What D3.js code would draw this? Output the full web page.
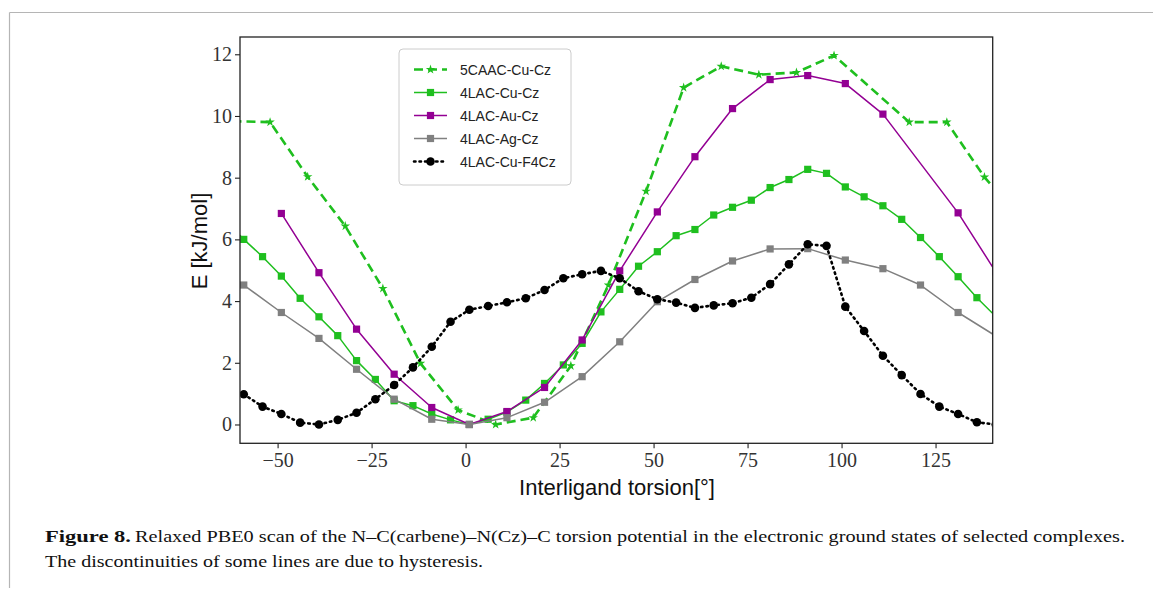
<!DOCTYPE html>
<html>
<head>
<meta charset="utf-8">
<script src="https://cdn.jsdelivr.net/npm/d3@7"></script>
<style>
  body { margin: 0; background: #fff; }
  svg { display: block; }
</style>
</head>
<body>
<div id="vis"></div>
<script>
// values (torsion in degrees, energy in kJ/mol)
const caacX = [-62, -52, -42, -32, -22, -12, -2, 8, 18, 28, 38, 48, 58, 68, 78, 88, 98, 118, 128, 138, 148];
const caacE = [9.83, 9.8, 8.03, 6.43, 4.41, 1.98, 0.47, 0.0, 0.22, 1.9, 4.52, 7.56, 10.92, 11.61, 11.34, 11.41, 11.96, 9.8, 9.8, 8.02, 6.6];

const cuX = [-64, -59, -54, -49, -44, -39, -34, -29, -24, -19, -14, -9, -4, 1, 6, 11, 16, 21, 26, 31, 36, 41,
             46, 51, 56, 61, 66, 71, 76, 81, 86, 91, 96, 101, 106, 111, 116, 121, 126, 131, 136, 141];
const cuE = [6.6, 6.0, 5.44, 4.81, 4.09, 3.49, 2.88, 2.07, 1.46, 0.77, 0.61, 0.34, 0.15, 0.0, 0.17, 0.4, 0.79, 1.33, 1.93, 2.63, 3.65, 4.38,
             5.13, 5.6, 6.12, 6.32, 6.79, 7.04, 7.27, 7.68, 7.94, 8.27, 8.14, 7.7, 7.38, 7.09, 6.65, 6.06, 5.44, 4.79, 4.11, 3.5];

const auX = [-49, -39, -29, -19, -9, 1, 11, 21, 31, 41, 51, 61, 71, 81, 91, 101, 111, 131, 141];
const auE = [6.84, 4.92, 3.09, 1.63, 0.55, 0.0, 0.42, 1.2, 2.74, 4.98, 6.89, 8.68, 10.24, 11.18, 11.31, 11.05, 10.06, 6.86, 4.95];

const agX = [-59, -49, -39, -29, -19, -9, 1, 11, 21, 31, 41, 51, 61, 71, 81, 91, 101, 111, 121, 131, 141];
const agE = [4.52, 3.63, 2.79, 1.79, 0.82, 0.17, 0.0, 0.22, 0.72, 1.55, 2.68, 3.98, 4.70, 5.30, 5.69, 5.70, 5.33, 5.05, 4.52, 3.63, 2.87];

const f4X = [-59, -54, -49, -44, -39, -34, -29, -24, -19, -14, -9, -4, 1, 6, 11, 16, 21, 26, 31, 36, 41,
             46, 51, 56, 61, 66, 71, 76, 81, 86, 91, 96, 101, 106, 111, 116, 121, 126, 131, 136, 141];
const f4E = [0.98, 0.58, 0.34, 0.06, 0.0, 0.15, 0.38, 0.82, 1.28, 1.85, 2.52, 3.33, 3.72, 3.84, 3.96, 4.09, 4.36, 4.74, 4.87, 4.98, 4.74,
             4.32, 4.06, 3.95, 3.78, 3.86, 3.93, 4.11, 4.55, 5.19, 5.84, 5.79, 3.82, 3.03, 2.23, 1.60, 0.99, 0.58, 0.34, 0.07, 0.0];

const xTicks = [-50, -25, 0, 25, 50, 75, 100, 125];
const yTicks = [0, 2, 4, 6, 8, 10, 12];

const green = '#1fbf1f';
const purple = '#930093';
const grey = '#808080';

const series = [
    { name: '5CAAC-Cu-Cz', xs: caacX, ys: caacE, color: green, width: 2.6, dash: '9,5', marker: 'star' },
    { name: '4LAC-Cu-Cz', xs: cuX, ys: cuE, color: green, width: 1.5, dash: null, marker: 'square' },
    { name: '4LAC-Au-Cz', xs: auX, ys: auE, color: purple, width: 1.5, dash: null, marker: 'square' },
    { name: '4LAC-Ag-Cz', xs: agX, ys: agE, color: grey, width: 1.5, dash: null, marker: 'square' },
    { name: '4LAC-Cu-F4Cz', xs: f4X, ys: f4E, color: '#000', width: 2.6, dash: '1.5,4', marker: 'circle' }
];

const margin = { top: 37, left: 240, right: 160.3, bottom: 147.7 };
const W = 1153, H = 591;
const width = W - margin.left - margin.right;
const height = H - margin.top - margin.bottom;

const root = d3.select('#vis')
    .append('svg')
    .attr('width', W)
    .attr('height', H);

// page frame of the journal layout
root.append('line').attr('x1', 9.5).attr('x2', W).attr('y1', 12.5).attr('y2', 12.5)
    .attr('stroke', '#b5b5b5').attr('stroke-width', 1.2);
root.append('line').attr('x1', 9.5).attr('x2', 9.5).attr('y1', 12.5).attr('y2', 588)
    .attr('stroke', '#b5b5b5').attr('stroke-width', 1.2);

const svg = root.append('g')
    .attr('transform', `translate(${margin.left},${margin.top})`);

const xScale = d3.scaleLinear().domain([-60, 140.2]).range([0, width]);
const yScale = d3.scaleLinear().domain([-0.61, 12.56]).range([height, 0]);

svg.append('clipPath').attr('id', 'plotclip')
    .append('rect').attr('width', width).attr('height', height);

// axes
const fmt = d => (d < 0 ? '\u2212' + Math.abs(d) : '' + d);
const xAxis = svg.append('g')
    .attr('transform', `translate(0,${height})`)
    .call(d3.axisBottom(xScale).tickValues(xTicks).tickFormat(fmt).tickSize(5).tickPadding(4.5));
const yAxis = svg.append('g')
    .call(d3.axisLeft(yScale).tickValues(yTicks).tickFormat(fmt).tickSize(5).tickPadding(3));

[xAxis, yAxis].forEach(a => {
    a.select('.domain').remove();
    a.selectAll('line').attr('stroke', '#222').attr('stroke-width', 1.1);
    a.selectAll('text')
        .attr('fill', '#333')
        .style('font-family', '"Liberation Serif", "DejaVu Serif", serif')
        .style('font-size', '20px');
});

// lines and markers
const plot = svg.append('g').attr('clip-path', 'url(#plotclip)');

const line = d3.line()
    .x(d => xScale(d[0]))
    .y(d => yScale(d[1]));

function drawMarker(g, type, color) {
    if (type === 'square') {
        g.append('rect').attr('x', -3.6).attr('y', -3.6).attr('width', 7.2).attr('height', 7.2).attr('fill', color);
    } else if (type === 'circle') {
        g.append('circle').attr('r', 4.3).attr('fill', color);
    } else {
        g.append('path').attr('d', d3.symbol(d3.symbolStar, 28)()).attr('fill', color);
    }
}

series.forEach(s => {
    const pts = s.xs.map((x, i) => [x, s.ys[i]]);
    plot.append('path')
        .attr('d', line(pts))
        .attr('fill', 'none')
        .attr('stroke', s.color)
        .attr('stroke-width', s.width)
        .attr('stroke-dasharray', s.dash)
        .attr('stroke-linecap', s.marker === 'circle' ? 'round' : 'butt')
        .attr('stroke-linejoin', 'round');

    plot.selectAll(null)
        .data(pts)
        .enter()
        .append('g')
        .attr('transform', d => `translate(${xScale(d[0])},${yScale(d[1])})`)
        .each(function () { drawMarker(d3.select(this), s.marker, s.color); });
});

// axes frame
svg.append('rect')
    .attr('width', width).attr('height', height)
    .attr('fill', 'none').attr('stroke', '#222').attr('stroke-width', 1.3);

// legend
const legend = svg.append('g').attr('transform', `translate(${399 - margin.left},${49 - margin.top})`);
legend.append('rect')
    .attr('width', 172).attr('height', 136).attr('rx', 4)
    .attr('fill', '#fff').attr('stroke', '#ccc').attr('stroke-width', 1);

legend.selectAll('.legend-item')
    .data(series)
    .enter()
    .append('g')
    .attr('class', 'legend-item')
    .attr('transform', (d, i) => `translate(0, ${20.5 + i * 23})`)
    .each(function (d) {
        const g = d3.select(this);
        g.append('line')
            .attr('x1', 15).attr('x2', 48)
            .attr('stroke', d.color).attr('stroke-width', d.width)
            .attr('stroke-dasharray', d.dash)
            .attr('stroke-linecap', d.marker === 'circle' ? 'round' : 'butt');
        const m = g.append('g').attr('transform', 'translate(31.5,0)');
        drawMarker(m, d.marker, d.color);
        g.append('text')
            .attr('x', 61).attr('y', 5)
            .style('font-family', '"Liberation Sans", Arial, sans-serif')
            .style('font-size', '14px')
            .attr('fill', '#222')
            .text(d.name);
    });

// axis titles
svg.append('text')
    .attr('x', 617 - margin.left).attr('y', 495 - margin.top)
    .attr('text-anchor', 'middle')
    .style('font-family', '"Liberation Sans", Arial, sans-serif')
    .style('font-size', '22px')
    .attr('fill', '#111')
    .text('Interligand torsion[°]');

svg.append('text')
    .attr('transform', `translate(${207 - margin.left},${241 - margin.top}) rotate(-90)`)
    .attr('text-anchor', 'middle')
    .style('font-family', '"Liberation Sans", Arial, sans-serif')
    .style('font-size', '22px')
    .attr('fill', '#111')
    .text('E [kJ/mol]');

// caption
const cap = root.append('g')
    .style('font-family', '"Liberation Serif", "DejaVu Serif", serif')
    .style('font-size', '17px')
    .attr('fill', '#111');
cap.append('text').attr('x', 45).attr('y', 542)
    .attr('textLength', 86).attr('lengthAdjust', 'spacingAndGlyphs')
    .style('font-weight', 'bold')
    .text('Figure 8.');
cap.append('text').attr('x', 135).attr('y', 542)
    .attr('textLength', 990).attr('lengthAdjust', 'spacingAndGlyphs')
    .text('Relaxed PBE0 scan of the N\u2013C(carbene)\u2013N(Cz)\u2013C torsion potential in the electronic ground states of selected complexes.');
cap.append('text').attr('x', 45).attr('y', 567)
    .attr('textLength', 438).attr('lengthAdjust', 'spacingAndGlyphs')
    .text('The discontinuities of some lines are due to hysteresis.');
</script>
</body>
</html>
